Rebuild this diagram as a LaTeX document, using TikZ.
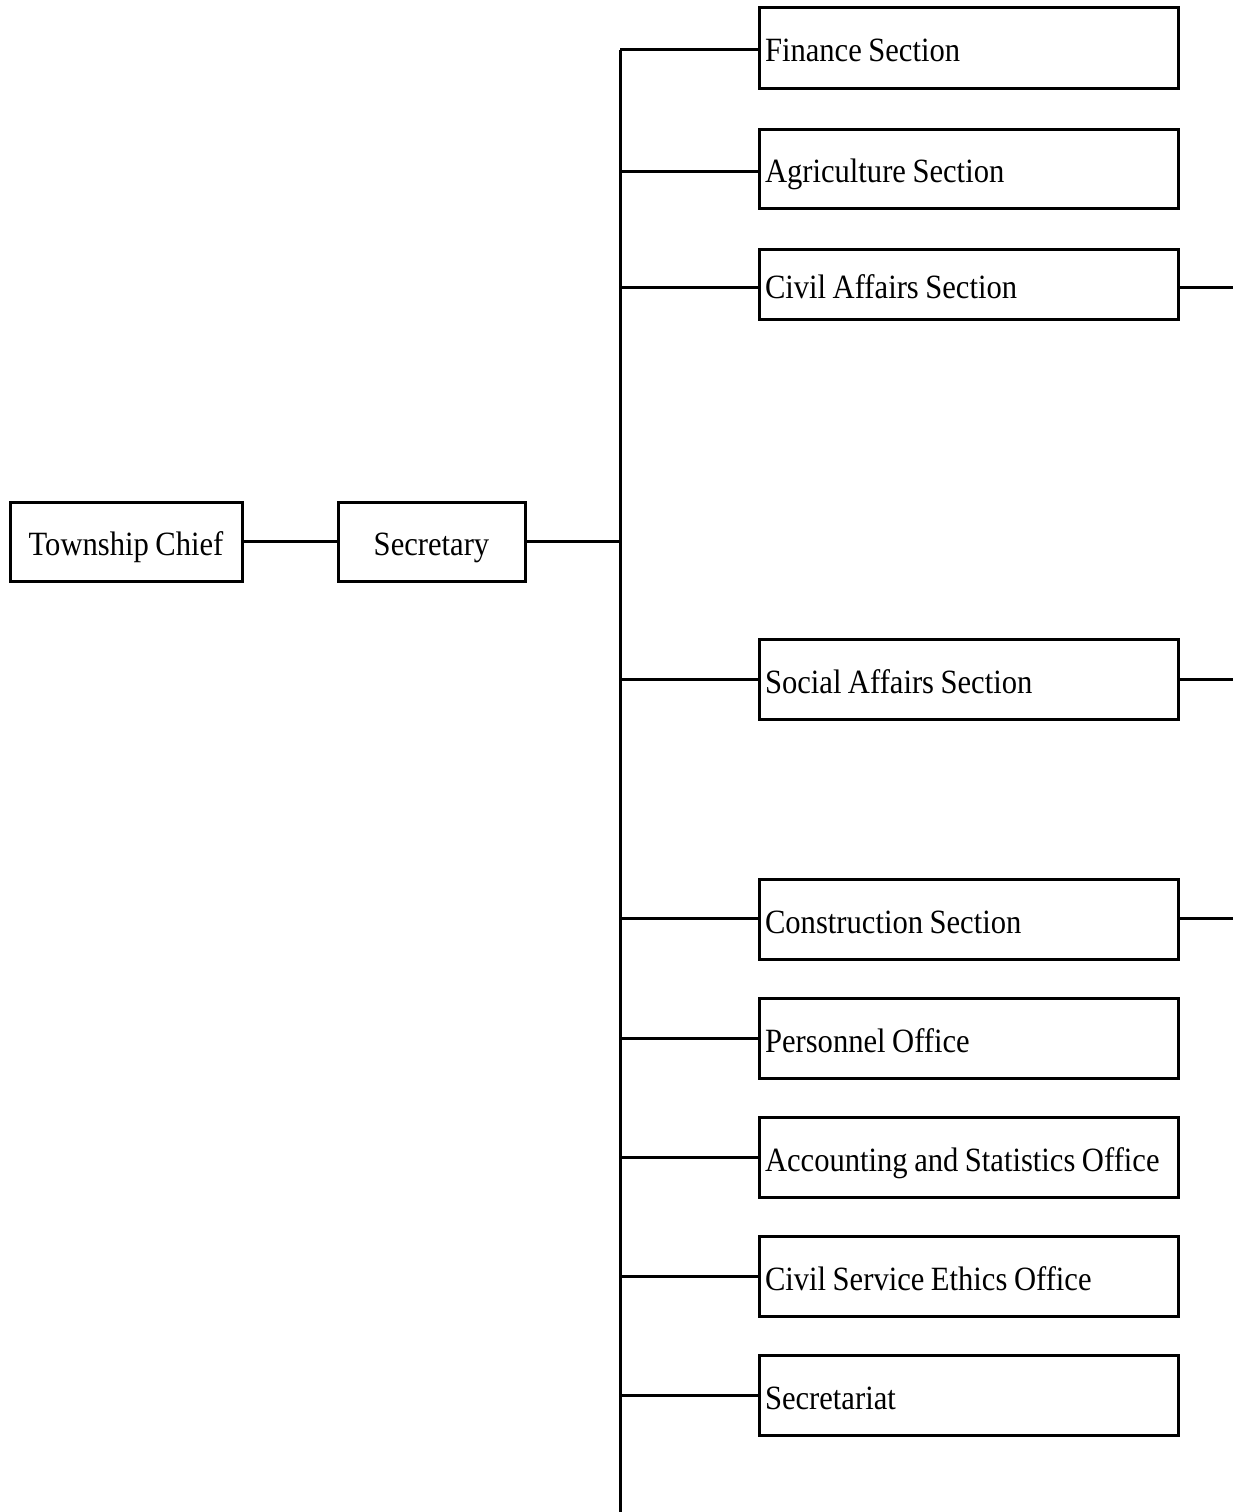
\documentclass[tikz,border=0pt]{standalone}
\usepackage{fontspec}
\setmainfont{Liberation Serif}[FakeStretch=0.9]
\newcommand{\boxfont}{\fontsize{34}{40}\selectfont\spaceskip=6.5pt\relax}
\begin{document}
\begin{tikzpicture}[x=1pt,y=-1pt,
  box/.style={draw=black,line width=3pt,rectangle,inner sep=0pt,
    font=\boxfont,text height=28pt,text depth=0pt,
    execute at begin node={\spaceskip=6.5pt\relax}},
  leftbox/.style={box,minimum height=79pt,align=center},
  sect/.style={box,minimum width=419pt,minimum height=80pt,
    text width=407pt,align=flush left,inner xsep=6pt},
  conn/.style={draw=black,line width=3pt}]
\useasboundingbox (0,0) rectangle (1233,1512);
% left chain
\node[leftbox,minimum width=232pt] (chief) at (126,541.5) {Township Chief};
\node[leftbox,minimum width=187pt] (sec) at (431.5,541.5) {Secretary};
% sections
\node[sect,minimum height=81pt] (fin) at (968.5,48) {Finance Section};
\node[sect,minimum height=79pt] (agr) at (968.5,168.5) {Agriculture Section};
\node[sect,minimum height=70pt] (civ) at (968.5,284) {Civil Affairs Section};
\node[sect] (soc) at (968.5,679) {Social Affairs Section};
\node[sect] (con) at (968.5,919) {Construction Section};
\node[sect] (per) at (968.5,1038) {Personnel Office};
\node[sect] (acc) at (968.5,1157.5) {Accounting and Statistics Office};
\node[sect] (eth) at (968.5,1276.5) {Civil Service Ethics Office};
\node[sect] (sct) at (968.5,1395.5) {Secretariat};
% trunk
\coordinate (ttop) at (620,50);
\coordinate (tbot) at (620,1512);
\coordinate (tmid) at (620,541.5);
\draw[conn] (ttop) -- (tbot);
\draw[conn] (chief) -- (sec);
\draw[conn] (sec) -- (tmid);
\foreach \n/\d in {fin/-2,agr/-2.5,civ/-3,soc/0,con/1,per/0,acc/0,eth/0,sct/0}{
  \coordinate (\n-in) at ([yshift=\d pt]\n.west);
  \draw[conn] (ttop |- \n-in) -- (\n-in);
}
% stubs to the right edge
\coordinate (sciv) at (1233,287);
\coordinate (ssoc) at (1233,679);
\coordinate (scon) at (1233,918);
\draw[conn] (civ.east |- sciv) -- (sciv);
\draw[conn] (soc.east |- ssoc) -- (ssoc);
\draw[conn] (con.east |- scon) -- (scon);
\end{tikzpicture}
\end{document}
